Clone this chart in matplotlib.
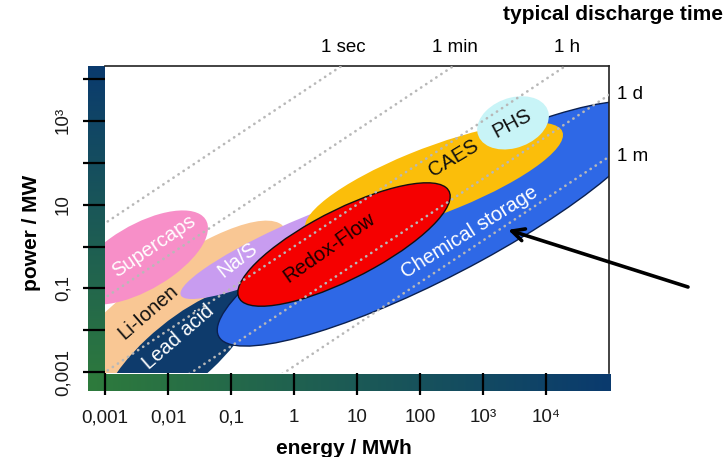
import numpy as np
import matplotlib
matplotlib.use('Agg')
import matplotlib.pyplot as plt
from matplotlib.patches import Ellipse
from matplotlib.colors import LinearSegmentedColormap

plt.rcParams['font.family'] = ['Liberation Sans', 'DejaVu Sans']

# ---------------- data ----------------
technologies = ['Li-Ionen', 'Lead acid', 'Na/S', 'Chemical storage',
                'CAES', 'PHS', 'Redox-Flow', 'Supercaps']
# centre of each technology region (energy in MWh, power in MW)
centre_energy = [0.00929, 0.01496, 1.037, 179.5, 166.8, 2995, 6.22, 0.00372]
centre_power = [0.01828, 0.002685, 1.116, 3.53, 37.3, 896, 1.116, 0.547]
# extent of each region in decades (long / short axis) and tilt in log-log space
long_decades = [5.83, 3.76, 4.37, 8.79, 4.72, 1.36, 4.23, 2.79]
short_decades = [1.75, 1.26, 0.95, 2.28, 1.50, 1.03, 1.47, 1.34]
tilt_deg = [51.9, 54.6, 34.6, 39.4, 31.6, 57.0, 40.1, 47.5]

discharge_labels = ['1 sec', '1 min', '1 h', '1 d', '1 m']
discharge_hours = [1 / 3600, 1 / 60, 1, 24, 720]

x_tick_values = [1e-3, 1e-2, 1e-1, 1, 10, 100, 1e3, 1e4]
x_tick_labels = ['0,001', '0,01', '0,1', '1', '10', '100', '10³', '10⁴']
y_tick_values = [1e-3, 1e-2, 1e-1, 1, 10, 100, 1e3, 1e4]
y_tick_labels = ['0,001', '', '0,1', '', '10', '', '10³', '']

arrow_target = (2500, 2.5)  # MWh, MW

# ---------------- style ----------------
face_colors = {'Li-Ionen': '#f9c794', 'Lead acid': '#0e3b6c', 'Na/S': '#c89cf0',
               'Chemical storage': '#2e68e6', 'CAES': '#fbbe0a', 'PHS': '#c8f4f7',
               'Redox-Flow': '#f50000', 'Supercaps': '#f78fc8'}
edge_colors = {'Redox-Flow': '#111111', 'Chemical storage': '#0a2050'}
label_style = {  # position (log10 E, log10 P), rotation, colour
    'Supercaps': ((-2.22, 0.02), 34, 'white'),
    'Li-Ionen': ((-2.32, -1.57), 41, '#111111'),
    'Lead acid': ((-1.83, -2.17), 41, 'white'),
    'Na/S': ((-0.90, -0.31), 38, 'white'),
    'Redox-Flow': ((0.56, -0.02), 35, '#1a0000'),
    'CAES': ((2.54, 2.12), 31, '#111111'),
    'PHS': ((3.46, 2.93), 28, '#111111'),
    'Chemical storage': ((2.78, 0.33), 32, 'white'),
}

W, H = 725, 457
fig = plt.figure(figsize=(W / 100, H / 100), dpi=100)


def px_rect(x0, y0, x1, y1):
    return [x0 / W, 1 - y1 / H, (x1 - x0) / W, (y1 - y0) / H]


green, navy = '#2e7b3c', '#0a3a6e'
cmap = LinearSegmentedColormap.from_list('gn', [green, navy])
grad = np.linspace(0, 1, 256)

axl = fig.add_axes(px_rect(88, 66, 105, 391), zorder=0)
axl.imshow(grad.reshape(-1, 1), origin='lower', aspect='auto', cmap=cmap)
axl.set_axis_off()
axb = fig.add_axes(px_rect(88, 374, 611, 391), zorder=0)
axb.imshow(grad.reshape(1, -1), aspect='auto', cmap=cmap)
axb.set_axis_off()

ax = fig.add_axes(px_rect(105, 66, 609, 373), zorder=2)
ax.set_xlim(-3.0, 5.0)
ax.set_ylim(-3.02, 4.31)
ax.patch.set_alpha(0)

for name, e, p, ln, sh, tl in zip(technologies, centre_energy, centre_power,
                                  long_decades, short_decades, tilt_deg):
    ec = edge_colors.get(name, 'none')
    ax.add_patch(Ellipse((np.log10(e), np.log10(p)), ln, sh, angle=tl,
                         facecolor=face_colors[name], edgecolor=ec,
                         lw=1.0 if ec != 'none' else 0, zorder=2))

xs = np.array([-4.0, 6.0])
top = ax.get_ylim()[1]
right = ax.get_xlim()[1]
for lab, t in zip(discharge_labels, discharge_hours):
    off = np.log10(t)
    ax.plot(xs, xs - off, color='#b8b8b8', lw=1.9, ls=(0, (0.1, 2.2)),
            dash_capstyle='round', zorder=4)
    xt = top + off
    if xt < right:
        ax.annotate(lab, (xt, top), xytext=(1, 7), textcoords='offset points',
                    ha='center', va='bottom', fontsize=13.5, annotation_clip=False)
    else:
        ax.annotate(lab, (right, right - off), xytext=(6, 0),
                    textcoords='offset points', ha='left', va='center',
                    fontsize=13.5, annotation_clip=False)

for name, ((lx, ly), rot, col) in label_style.items():
    ax.text(lx, ly, name, rotation=rot, rotation_mode='anchor', ha='center',
            va='center', color=col, fontsize=14.5, zorder=6)

ax.annotate('', xy=tuple(np.log10(arrow_target)), xytext=(688 / W, 1 - 287 / H),
            textcoords='figure fraction',
            arrowprops=dict(arrowstyle='->', lw=2.6, color='black',
                            mutation_scale=22, shrinkA=0, shrinkB=0),
            annotation_clip=False, zorder=7)

ax.set_xticks(np.log10(x_tick_values))
ax.set_xticklabels(x_tick_labels)
ax.set_yticks(np.log10(y_tick_values))
ax.set_yticklabels(y_tick_labels, rotation=90, va='center')
ax.tick_params(direction='out', length=16, width=1.6, color='black',
               labelsize=13.5, labelcolor='#1a1a1a')
ax.tick_params(axis='x', pad=10)
ax.tick_params(axis='y', pad=8)
for side in ('left', 'bottom'):
    ax.spines[side].set_visible(False)
for side in ('top', 'right'):
    ax.spines[side].set_color('#222222')
    ax.spines[side].set_linewidth(1.2)

fig.text(503 / W, 1 - 15 / H, 'typical discharge time', fontsize=15,
         fontweight='bold', ha='left', va='center')
fig.text(32 / W, 1 - 233 / H, 'power / MW', fontsize=15, fontweight='bold',
         rotation=90, ha='center', va='center')
fig.text(344 / W, 1 - 449 / H, 'energy / MWh', fontsize=15, fontweight='bold',
         ha='center', va='center')

fig.savefig('out.png', dpi=100, facecolor='white')
